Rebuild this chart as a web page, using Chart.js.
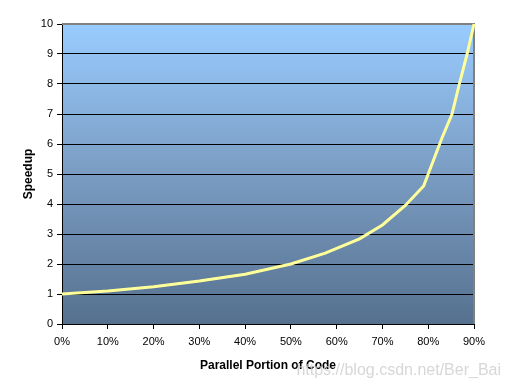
<!DOCTYPE html>
<html>
<head>
<meta charset="utf-8">
<script src="https://cdn.jsdelivr.net/npm/chart.js@4.4.1/dist/chart.umd.min.js"></script>
<style>
  html, body { margin: 0; padding: 0; background: #fff; }
  #wrap { width: 509px; height: 390px; }
</style>
</head>
<body>
<div id="wrap"><canvas id="speedupChart" width="509" height="390"></canvas></div>
<script>
// values (parallel fraction in %, speedup)
const parallelPct = [0, 10, 20, 30, 40, 50, 57.5, 65, 70, 75, 79, 80.5, 83, 85.2, 86.8, 88.5, 90];
const speedup = [1.0, 1.1, 1.24, 1.43, 1.66, 2.0, 2.36, 2.84, 3.3, 3.95, 4.6, 5.2, 6.2, 7.0, 8.0, 9.0, 10.0];
const xTicks = [0, 10, 20, 30, 40, 50, 60, 70, 80, 90];
const yTicks = [0, 1, 2, 3, 4, 5, 6, 7, 8, 9, 10];

const points = parallelPct.map((p, i) => ({ x: p, y: speedup[i] }));

const plotBackground = {
  id: "plotBackground",
  beforeDraw(chart) {
    const { ctx, chartArea: a } = chart;
    const g = ctx.createLinearGradient(0, a.top, 0, a.bottom);
    g.addColorStop(0, "#99ccff");
    g.addColorStop(0.5, "#7a9cc2");
    g.addColorStop(1, "#56718f");
    ctx.save();
    ctx.fillStyle = g;
    ctx.fillRect(a.left, a.top, a.right - a.left, a.bottom - a.top);
    ctx.restore();
  },
  beforeDatasetsDraw(chart) {
    const { ctx, chartArea: a } = chart;
    ctx.save();
    ctx.strokeStyle = "#808080";
    ctx.lineWidth = 2;
    ctx.beginPath();
    ctx.moveTo(a.left, a.top);
    ctx.lineTo(a.right, a.top);
    ctx.lineTo(a.right, a.bottom);
    ctx.stroke();
    ctx.restore();
  },
  afterDraw(chart) {
    const ctx = chart.ctx;
    ctx.save();
    ctx.font = "16px 'Liberation Sans', Arial, sans-serif";
    ctx.fillStyle = "rgba(205,205,205,0.8)";
    ctx.textAlign = "right";
    ctx.textBaseline = "middle";
    ctx.fillText("https://blog.csdn.net/Ber_Bai", 501, 371);
    ctx.restore();
  },
};

const tickFont = { family: "'Liberation Sans', Arial, sans-serif", size: 11 };
const titleFont = { family: "'Liberation Sans', Arial, sans-serif", size: 12, weight: "bold" };

new Chart(document.getElementById("speedupChart"), {
  type: "line",
  data: {
    datasets: [
      {
        data: points,
        borderColor: "#ffff99",
        borderWidth: 3,
        pointRadius: 0,
        tension: 0,
        clip: 6,
      },
    ],
  },
  options: {
    responsive: false,
    animation: false,
    events: [],
    layout: { padding: { top: 24, right: 35, bottom: 0, left: 0 } },
    plugins: { legend: { display: false }, tooltip: { enabled: false } },
    scales: {
      x: {
        type: "linear",
        min: 0,
        max: 90,
        afterFit: (s) => { s.height = 66; },
        afterBuildTicks: (s) => { s.ticks = xTicks.map((v) => ({ value: v })); },
        grid: { drawOnChartArea: false, color: "#000", tickLength: 5 },
        border: { color: "#000", width: 1 },
        ticks: {
          font: tickFont,
          color: "#000",
          padding: 6,
          maxRotation: 0,
          callback: (v) => v + "%",
        },
        title: {
          display: true,
          text: "Parallel Portion of Code",
          font: titleFont,
          color: "#000",
          padding: { top: 0, bottom: 17 },
        },
      },
      y: {
        min: 0,
        max: 10,
        afterFit: (s) => { s.width = 62; },
        afterBuildTicks: (s) => { s.ticks = yTicks.map((v) => ({ value: v })); },
        grid: { color: "#000", lineWidth: 1, tickLength: 5 },
        border: { color: "#000", width: 1 },
        ticks: { font: tickFont, color: "#000", padding: 4 },
        title: {
          display: true,
          text: "Speedup",
          font: titleFont,
          color: "#000",
          padding: { top: 21, bottom: 0 },
        },
      },
    },
  },
  plugins: [plotBackground],
});
</script>
</body>
</html>
